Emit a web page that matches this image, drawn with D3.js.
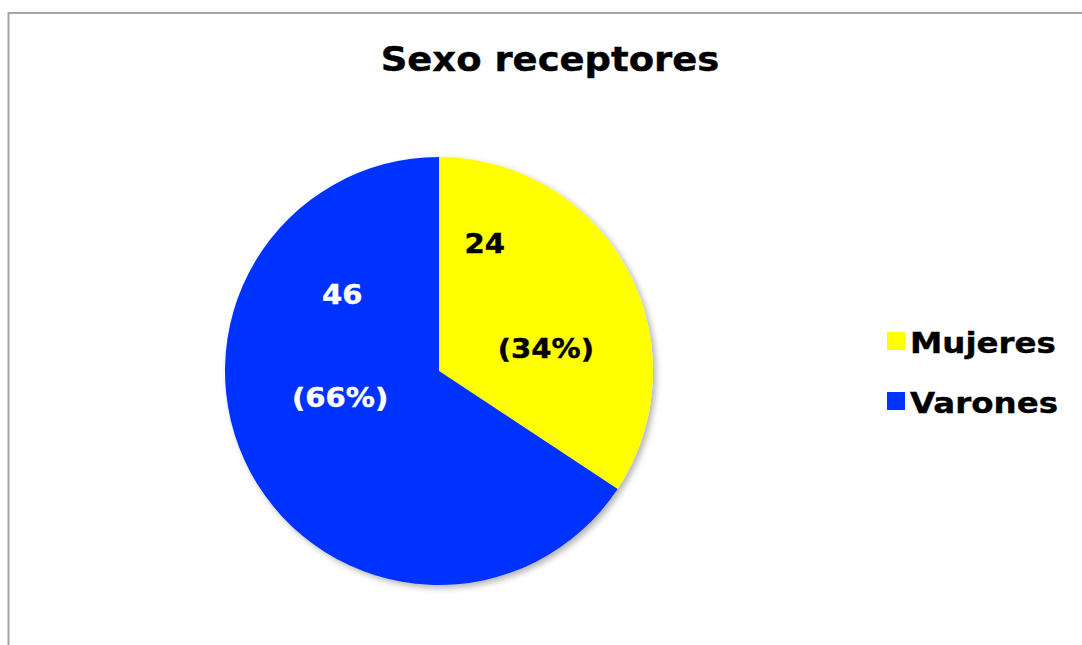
<!DOCTYPE html>
<html>
<head>
<meta charset="utf-8">
<script src="https://cdn.jsdelivr.net/npm/d3@7"></script>
<style>
  html, body { margin: 0; padding: 0; background: #fff; }
  svg { display: block; }
  text { font-family: "DejaVu Sans", Verdana, sans-serif; font-weight: bold; }
</style>
</head>
<body>
<svg id="chart" width="1082" height="645"></svg>
<script>
const title = "Sexo receptores";
const categories = ["Mujeres", "Varones"];
const values = [24, 46];
const colors = ["#ffff00", "#0033ff"];
const labelColors = ["#000000", "#ffffff"];

const W = 1082, H = 645;
const sx = 1.12; // horizontal stretch of text in the original
const svg = d3.select("#chart");

// outer frame
svg.append("rect")
  .attr("x", 8.5).attr("y", 13)
  .attr("width", 1200).attr("height", 800)
  .attr("fill", "#fff").attr("stroke", "#a3a3a3").attr("stroke-width", 2);

const defs = svg.append("defs");
const f = defs.append("filter").attr("id", "shadow")
  .attr("x", "-20%").attr("y", "-20%").attr("width", "140%").attr("height", "140%");
f.append("feDropShadow").attr("dx", 3).attr("dy", 3)
  .attr("stdDeviation", 3).attr("flood-color", "#000").attr("flood-opacity", 0.3);

function sText(parent, x, y, str, size, fill, anchor) {
  const g = parent.append("g").attr("transform", `translate(${x},${y}) scale(${sx},1)`);
  g.append("text").attr("x", 0).attr("y", 0)
    .attr("text-anchor", anchor || "middle")
    .attr("font-size", size).attr("fill", fill)
    .attr("stroke", fill).attr("stroke-width", 0.4)
    .text(str);
  return g;
}

// title
sText(svg, 550, 71, title, 33, "#000");

// pie
const cx = 439, cy = 371, R = 214;
const total = d3.sum(values);
const pie = d3.pie().sort(null).value(d => d)(values);
const arc = d3.arc().innerRadius(0).outerRadius(R);
const gPie = svg.append("g").attr("transform", `translate(${cx},${cy})`);
const gSlices = gPie.append("g").attr("filter", "url(#shadow)");
gSlices.selectAll("path").data(pie).join("path")
  .attr("d", arc)
  .attr("fill", (d, i) => colors[i]);

// labels (value line and percentage line)
const labelArc = d3.arc().innerRadius(R * 0.62).outerRadius(R * 0.62);
const lineOffsets = [
  { v: [-71, -55], p: [-10, 50] },
  { v: [ 20, -130], p: [18, -27] }
];
pie.forEach((d, i) => {
  const [x, y] = labelArc.centroid(d);
  const o = lineOffsets[i];
  const pct = Math.round(values[i] / total * 100);
  sText(gPie, x + o.v[0], y + o.v[1], String(values[i]), 26, labelColors[i]);
  sText(gPie, x + o.p[0], y + o.p[1], `(${pct}%)`, 26, labelColors[i]);
});

// legend
const legend = svg.append("g").attr("transform", "translate(887,332)");
categories.forEach((c, i) => {
  const g = legend.append("g").attr("transform", `translate(0,${i * 60})`);
  g.append("rect").attr("x", 0).attr("y", 0).attr("width", 18).attr("height", 18)
    .attr("fill", colors[i]);
  sText(g, 23, 21, c, 29, "#000", "start");
});
</script>
</body>
</html>
